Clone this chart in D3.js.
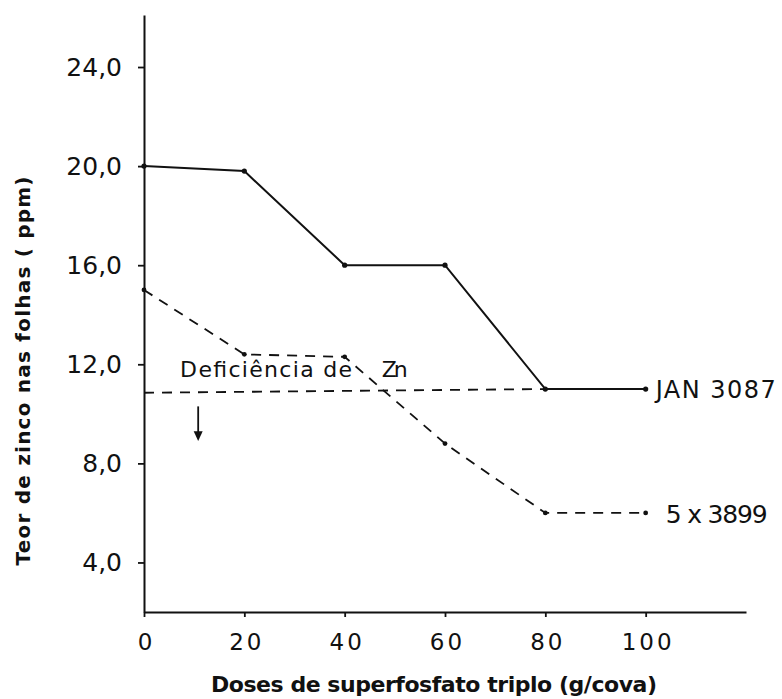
<!DOCTYPE html>
<html>
<head>
<meta charset="utf-8">
<script src="https://cdn.jsdelivr.net/npm/d3@7"></script>
<style>
  body { margin: 0; background: #fff; }
  text { font-family: "DejaVu Sans", sans-serif; fill: #111; }
</style>
</head>
<body>
<div id="chart"></div>
<script>
// values
let doses = [0, 20, 40, 60, 80, 100];
let jan3087 = [20.0, 19.8, 16.0, 16.0, 11.0, 11.0];
let cross3899 = [15.0, 12.4, 12.3, 8.8, 6.0, 6.0];
let deficiencyDoses = [0, 80];
let deficiencyLevel = [10.85, 11.0];

let xTicks = [0, 20, 40, 60, 80, 100];
let xTickLabels = ["0", "20", "40", "60", "80", "100"];
let yTicks = [4, 8, 12, 16, 20, 24];
let yTickLabels = ["4,0", "8,0", "12,0", "16,0", "20,0", "24,0"];

let svgWidth = 782;
let svgHeight = 699;

let svg = d3.select("#chart")
  .append("svg")
  .attr("width", svgWidth)
  .attr("height", svgHeight);

let x = d3.scaleLinear().domain([0, 120]).range([144, 746]);
let y = d3.scaleLinear().domain([2, 26.1]).range([612, 15]);

// axes
let bottomAxis = d3.axisBottom(x)
  .tickValues(xTicks)
  .tickFormat((d, i) => xTickLabels[i])
  .tickSize(5)
  .tickSizeOuter(0)
  .tickPadding(17);

let leftAxis = d3.axisLeft(y)
  .tickValues(yTicks)
  .tickFormat((d, i) => yTickLabels[i])
  .tickSize(6)
  .tickSizeOuter(0)
  .tickPadding(16);

let gx = svg.append("g")
  .attr("transform", `translate(0, ${y(2)})`)
  .call(bottomAxis);

let gy = svg.append("g")
  .attr("transform", `translate(${x(0)}, 0)`)
  .call(leftAxis);

[gx, gy].forEach(g => {
  g.select(".domain").attr("stroke", "#111").attr("stroke-width", 2);
  g.selectAll(".tick line").attr("stroke", "#111").attr("stroke-width", 1.8);
  g.selectAll(".tick text")
    .attr("font-family", "DejaVu Sans")
    .attr("fill", "#111");
});
gy.selectAll(".tick text").attr("font-size", 25);
gx.selectAll(".tick text")
  .attr("font-size", 23)
  .style("letter-spacing", "3px")
  .attr("dx", 2);

// axis titles
svg.append("text")
  .attr("x", 434)
  .attr("y", 692)
  .attr("text-anchor", "middle")
  .attr("font-size", 22)
  .attr("font-weight", "bold")
  .attr("textLength", 446)
  .attr("lengthAdjust", "spacing")
  .text("Doses de superfosfato triplo (g/cova)");

svg.append("text")
  .attr("transform", "translate(30, 371) rotate(-90)")
  .attr("text-anchor", "middle")
  .attr("font-size", 20)
  .attr("font-weight", "bold")
  .attr("textLength", 389)
  .attr("lengthAdjust", "spacing")
  .text("Teor de zinco nas folhas ( ppm)");

let line = d3.line()
  .x(d => x(d[0]))
  .y(d => y(d[1]));

// deficiency threshold
svg.append("path")
  .datum(d3.zip(deficiencyDoses, deficiencyLevel))
  .attr("d", line)
  .attr("fill", "none")
  .attr("stroke", "#111")
  .attr("stroke-width", 1.8)
  .attr("stroke-dasharray", "10,8");

// series
let janData = d3.zip(doses, jan3087);
let crossData = d3.zip(doses, cross3899);

svg.append("path")
  .datum(janData)
  .attr("d", line)
  .attr("fill", "none")
  .attr("stroke", "#111")
  .attr("stroke-width", 2);

svg.append("path")
  .datum(crossData)
  .attr("d", line)
  .attr("fill", "none")
  .attr("stroke", "#111")
  .attr("stroke-width", 1.8)
  .attr("stroke-dasharray", "10,8");

svg.selectAll("circle.jan")
  .data(janData)
  .enter()
  .append("circle")
  .attr("class", "jan")
  .attr("cx", d => x(d[0]))
  .attr("cy", d => y(d[1]))
  .attr("r", 2.6)
  .attr("fill", "#111");

svg.selectAll("circle.cross")
  .data(crossData)
  .enter()
  .append("circle")
  .attr("class", "cross")
  .attr("cx", d => x(d[0]))
  .attr("cy", d => y(d[1]))
  .attr("r", 2.4)
  .attr("fill", "#111");

// series labels
svg.append("text")
  .attr("x", x(100) + 10)
  .attr("y", y(jan3087[5]) + 9)
  .attr("font-size", 24)
  .attr("textLength", 120)
  .attr("lengthAdjust", "spacing")
  .text("JAN 3087");

svg.append("text")
  .attr("x", x(100) + 20)
  .attr("y", y(cross3899[5]) + 10)
  .attr("font-size", 25)
  .attr("textLength", 102)
  .attr("lengthAdjust", "spacing")
  .text("5 x 3899");

// deficiency annotation
svg.append("text")
  .attr("x", x(7.2))
  .attr("y", y(11.5))
  .attr("font-size", 22)
  .attr("textLength", 172)
  .attr("lengthAdjust", "spacing")
  .text("Deficiência de");

svg.append("text")
  .attr("x", x(47.4))
  .attr("y", y(11.5))
  .attr("font-size", 22)
  .attr("textLength", 26)
  .attr("lengthAdjust", "spacing")
  .text("Zn");

// downward arrow
let ax = x(10.8);
svg.append("line")
  .attr("x1", ax).attr("x2", ax)
  .attr("y1", y(10.3)).attr("y2", y(9.2))
  .attr("stroke", "#111")
  .attr("stroke-width", 1.8);

svg.append("path")
  .attr("d", `M${ax - 4.5},${y(9.3)} L${ax + 4.5},${y(9.3)} L${ax},${y(8.9)} Z`)
  .attr("fill", "#111");
</script>
</body>
</html>
